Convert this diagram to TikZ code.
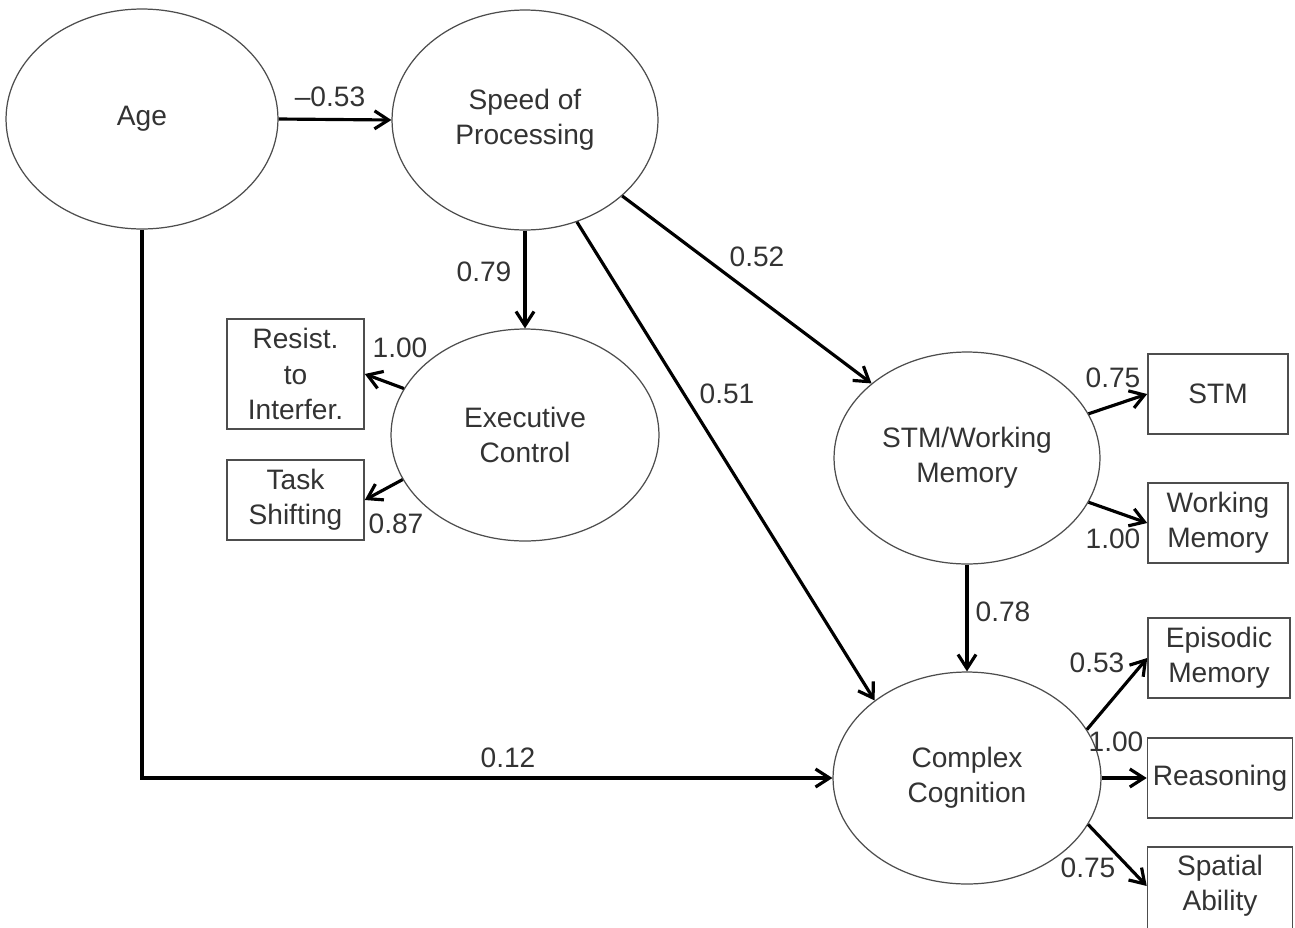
\documentclass[tikz,border=0pt]{standalone}
\usepackage{fontspec}
\setmainfont{Liberation Sans}
\usetikzlibrary{shapes.geometric,arrows.meta}
\definecolor{txt}{HTML}{333333}
\definecolor{edgec}{HTML}{4D4D4D}
\begin{document}
\begin{tikzpicture}[x=0.02cm,y=-0.02cm,
  every node/.style={font=\fontsize{16pt}{20pt}\selectfont, text=txt},
  latent/.style={ellipse, draw=edgec, line width=0.7pt, align=center, inner sep=0pt},
  obs/.style={rectangle, draw=edgec, line width=0.9pt, align=center, inner sep=0pt},
  arr/.style={line width=1.8pt, -{Straight Barb[length=2.8mm,width=3.6mm]}},
  coef/.style={inner sep=0pt}]
\useasboundingbox[fill=white] (0,0) rectangle (1295,927);

% latent variables
\node[latent, minimum width=5.44cm, minimum height=4.40cm] (age) at (142,119) {Age};
\node[latent, minimum width=5.32cm, minimum height=4.40cm] (speed) at (525,120) {Speed of\\Processing};
\node[latent, minimum width=5.36cm, minimum height=4.24cm] (exec) at (525,435) {Executive\\Control};
\node[latent, minimum width=5.32cm, minimum height=4.24cm] (stmwm) at (967,458) {STM/Working\\Memory};
\node[latent, minimum width=5.36cm, minimum height=4.24cm] (cc) at (967,778) {Complex\\Cognition};

% observed variables
\node[obs, minimum width=2.74cm, minimum height=2.20cm] (resist) at (295.5,374) {Resist.\\to\\Interfer.};
\node[obs, minimum width=2.74cm, minimum height=1.60cm] (task) at (295.5,500) {Task\\Shifting};
\node[obs, minimum width=2.80cm, minimum height=1.60cm] (stm) at (1218,394) {STM};
\node[obs, minimum width=2.80cm, minimum height=1.60cm] (wm) at (1218,523) {Working\\Memory};
\node[obs, minimum width=2.84cm, minimum height=1.60cm] (epi) at (1219,658) {Episodic\\Memory};
\node[obs, minimum width=2.90cm, minimum height=1.60cm] (reas) at (1220,778) {Reasoning};
\node[obs, minimum width=2.90cm, minimum height=1.80cm] (spat) at (1220,892) {};
\node (spattxt) at (1220,886) [align=center, inner sep=0pt] {Spatial\\Ability};

% structural paths
\draw[arr] (age.east) -- (speed.west);
\draw[arr] (age.south) |- (cc.west);
\draw[arr] (speed.south) -- (exec.north);
\draw[arr] (speed.-38) -- (stmwm.142);
\draw[arr] (speed.-63) -- (cc.140);
\draw[arr] (stmwm.south) -- (cc.north);

% measurement paths
\draw[arr] (exec.159) -- (resist.east);
\draw[arr] (exec.200) -- (task.east);
\draw[arr] (stmwm.20) -- (stm.west);
\draw[arr] (stmwm.-20) -- (wm.west);
\draw[arr] (cc.22) -- (epi.west);
\draw[arr] (cc.east) -- (reas.west);
\draw[arr] (cc.-21) -- (spattxt.west -| spat.west);

% coefficients
\node[coef] (c1) at (330,97) {–0.53};
\node[coef] (c2) at (484,272) {0.79};
\node[coef] (c3) at (757,257) {0.52};
\node[coef] (c4) at (727,394) {0.51};
\node[coef] (c5) at (400,348) {1.00};
\node[coef] (c6) at (396,524) {0.87};
\node[coef] (c7) at (1113,378) {0.75};
\node[coef] (c8) at (1113,539) {1.00};
\node[coef] (c9) at (1003,612) {0.78};
\node[coef] (c10) at (1097,663) {0.53};
\node[coef] (c11) at (1116,742) {1.00};
\node[coef] (c12) at (1088,868) {0.75};
\node[coef] (c13) at (508,758) {0.12};
\end{tikzpicture}
\end{document}
